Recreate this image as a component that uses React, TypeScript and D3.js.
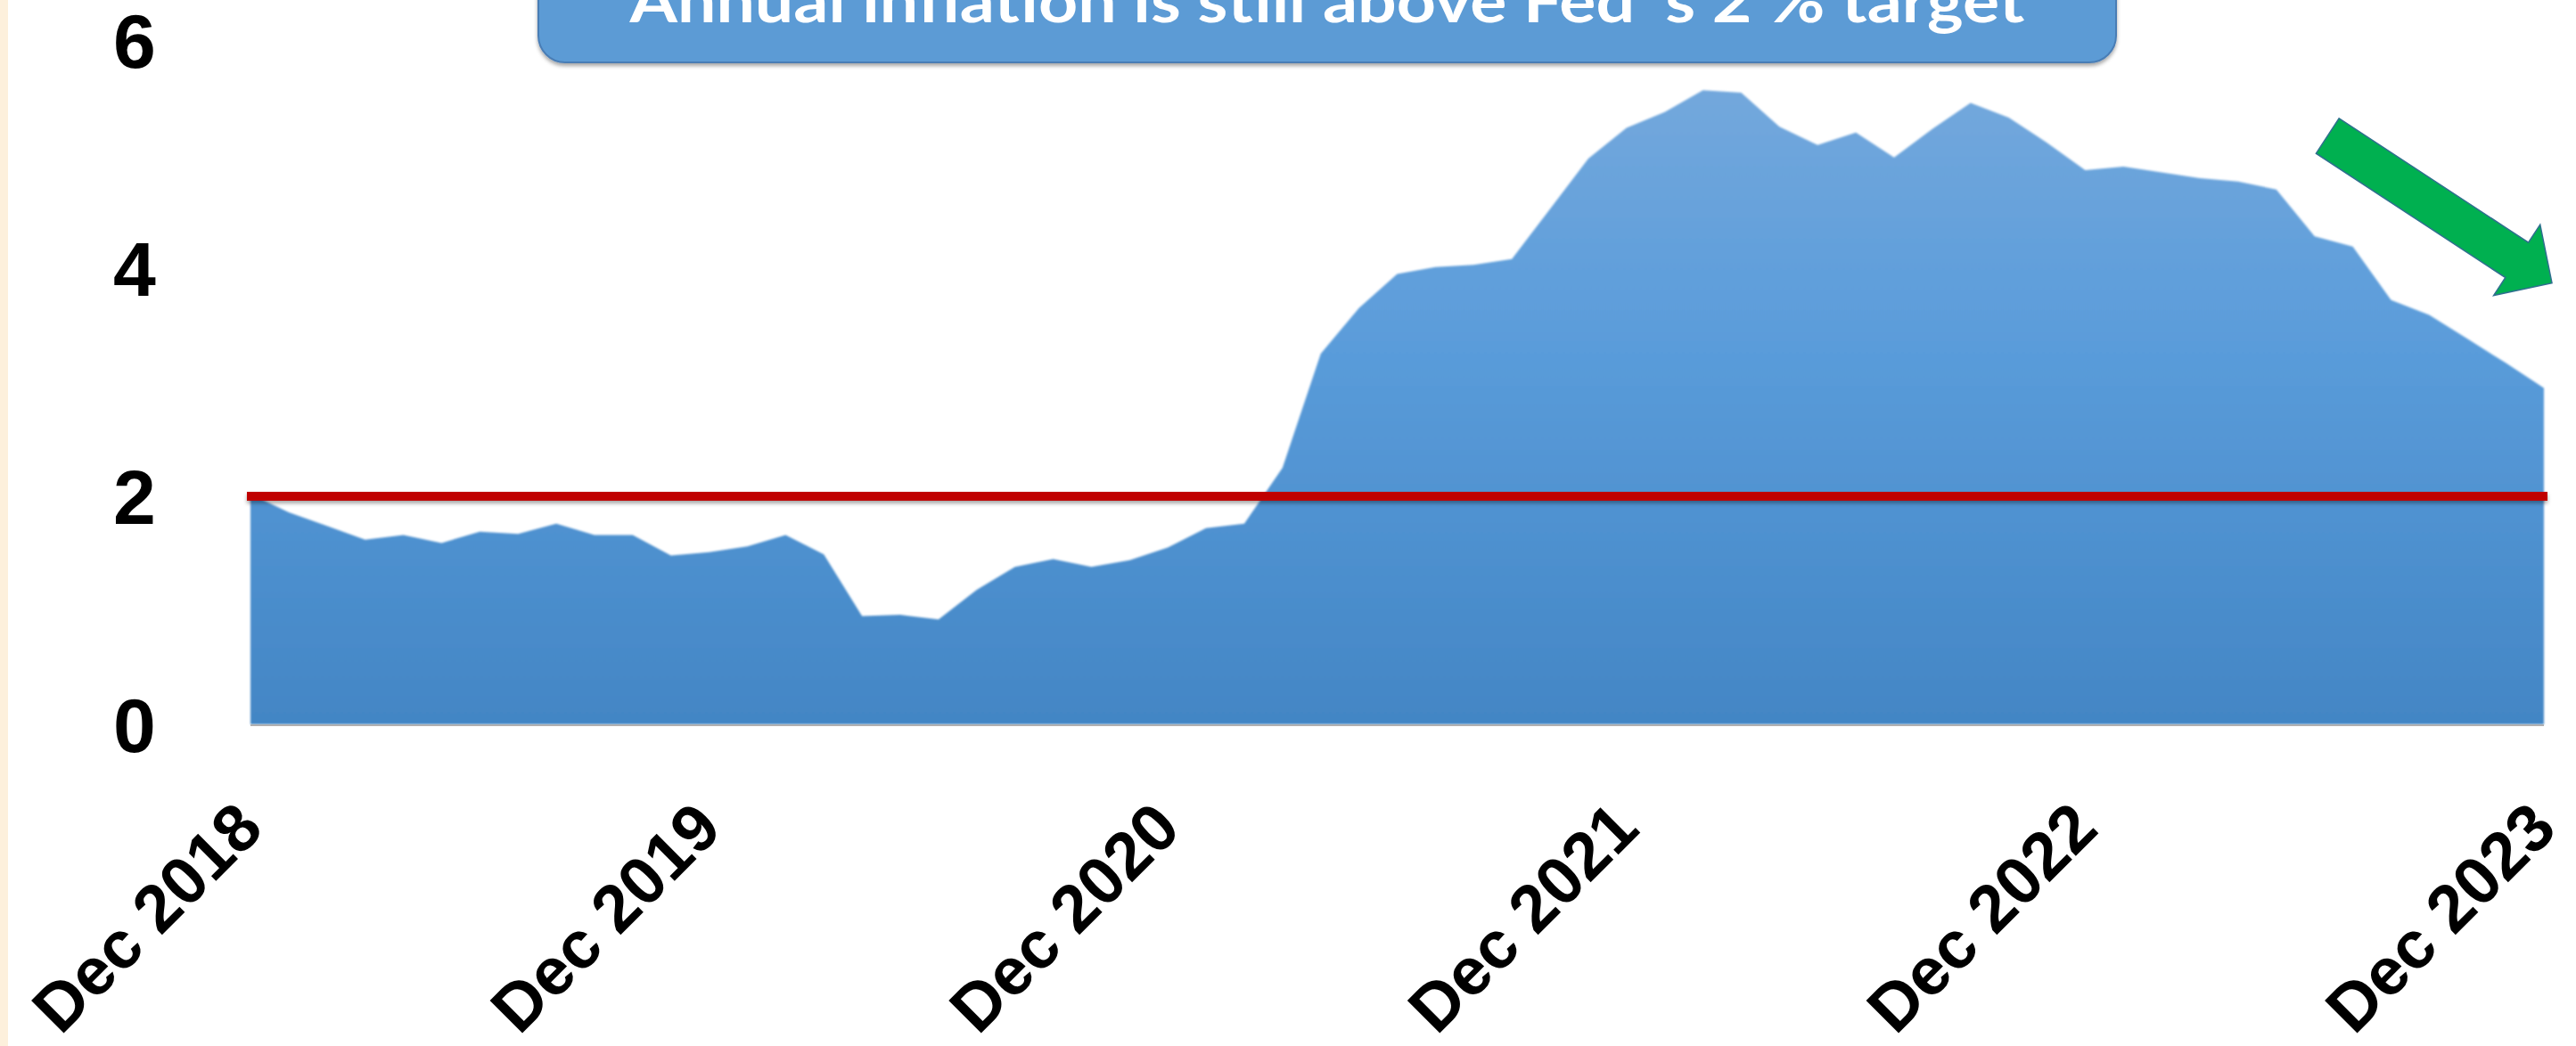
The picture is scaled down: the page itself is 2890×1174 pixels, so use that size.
import * as d3 from 'd3';

// Core inflation, year over year %, monthly Dec 2018 .. Dec 2023
const inflation = [
  2.02,
  1.86, 1.74, 1.62, 1.66, 1.59, 1.69, 1.67, 1.76, 1.66, 1.66, 1.48, 1.51,
  1.56, 1.66, 1.49, 0.95, 0.96, 0.92, 1.18, 1.38, 1.45, 1.38, 1.44, 1.55,
  1.72, 1.76, 2.25, 3.25, 3.65, 3.95, 4.01, 4.03, 4.08, 4.52, 4.96, 5.23,
  5.37, 5.56, 5.54, 5.24, 5.08, 5.19, 4.97, 5.22, 5.45, 5.32, 5.10, 4.86,
  4.89, 4.84, 4.79, 4.76, 4.69, 4.28, 4.19, 3.72, 3.59, 3.38, 3.17, 2.95
];
const tickLabels = ["Dec 2018", "Dec 2019", "Dec 2020", "Dec 2021", "Dec 2022", "Dec 2023"];
const tickIndex = [0, 12, 24, 36, 48, 60];
const yTicks = [0, 2, 4, 6];
const target = 2;
const title = "Annual inflation is still above Fed 's 2 % target";

// arrow annotation, in data space: [month index, value]
const arrowFrom = [54.34, 5.16];
const arrowTo = [60.21, 3.87];

const W = 2890;
const H = 1174;

function arrowPoints(x1: number, y1: number, x2: number, y2: number, shaft: number, headW: number, headL: number) {
  const dx = x2 - x1, dy = y2 - y1;
  const len = Math.hypot(dx, dy);
  const ux = dx / len, uy = dy / len;
  const px = -uy, py = ux;
  const bx = x2 - ux * headL, by = y2 - uy * headL;
  const pts = [
    [x1 - px * shaft / 2, y1 - py * shaft / 2],
    [bx - px * shaft / 2, by - py * shaft / 2],
    [bx - px * headW / 2, by - py * headW / 2],
    [x2, y2],
    [bx + px * headW / 2, by + py * headW / 2],
    [bx + px * shaft / 2, by + py * shaft / 2],
    [x1 + px * shaft / 2, y1 + py * shaft / 2]
  ];
  return pts.map(p => p.join(",")).join(" ");
}

export default function App() {
  const x = d3.scaleLinear().domain([0, inflation.length - 1]).range([281, 2854]);
  const y = d3.scaleLinear().domain([0, 6]).range([813, 45]);

  const area = d3.area<number>()
    .x((d, i) => x(i))
    .y0(y(0))
    .y1(d => y(d));

  return (
    <svg width={W} height={H} style={{ position: "absolute", left: 0, top: 0, background: "#fff" }}>
      <defs>
        <linearGradient id="fill" gradientUnits="userSpaceOnUse" x1="0" y1={y(6)} x2="0" y2={y(0)}>
          <stop offset="0" stopColor="#78aadd" />
          <stop offset="0.45" stopColor="#5a9cda" />
          <stop offset="1" stopColor="#4386c5" />
        </linearGradient>
        <filter id="shadow" filterUnits="userSpaceOnUse" x={0} y={-100} width={W} height={H + 100}>
          <feDropShadow dx="0" dy="3" stdDeviation="2" floodColor="#000" floodOpacity="0.35" />
        </filter>
        <filter id="soft" filterUnits="userSpaceOnUse" x={0} y={0} width={W} height={H}>
          <feGaussianBlur stdDeviation="1" />
        </filter>
      </defs>

      <rect x={0} y={0} width={9} height={H} fill="#fdf0dc" />

      <path d={area(inflation) ?? ""} fill="url(#fill)" filter="url(#soft)" />

      <line x1={x(0)} x2={x(60)} y1={y(0) + 1} y2={y(0) + 1} stroke="#b0b0b0" strokeWidth={2} />

      <line x1={x(0) - 4} x2={x(60) + 4} y1={y(target)} y2={y(target)}
        stroke="#c00000" strokeWidth={10} filter="url(#shadow)" />

      {yTicks.map(t => (
        <text key={t} x={151} y={y(t)} dy="0.36em" textAnchor="middle"
          fontFamily="'Liberation Sans', Arial, sans-serif" fontWeight="bold" fontSize={86} fill="#000">
          {t}
        </text>
      ))}

      {tickLabels.map((lab, i) => (
        <text key={lab} transform={`translate(${x(tickIndex[i]) + 17},933) rotate(-45)`} textAnchor="end"
          fontFamily="'Liberation Sans', Arial, sans-serif" fontWeight="bold" fontSize={75} fill="#000">
          {lab}
        </text>
      ))}

      <g filter="url(#shadow)">
        <rect x={604} y={-60} width={1770} height={130} rx={30} fill="#5b9bd5" stroke="#4a7db5" strokeWidth={2} />
      </g>
      <text x={1489} y={25} textAnchor="middle" fontFamily="Lato, 'Open Sans', sans-serif" fontWeight="bold"
        fontSize={66} fill="#fff" textLength={1565} lengthAdjust="spacingAndGlyphs">
        {title}
      </text>

      <polygon
        points={arrowPoints(x(arrowFrom[0]), y(arrowFrom[1]), x(arrowTo[0]), y(arrowTo[1]), 47, 95, 47)}
        fill="#00b050" stroke="#2f6f8f" strokeWidth={1.5} strokeLinejoin="miter" />
    </svg>
  );
}
